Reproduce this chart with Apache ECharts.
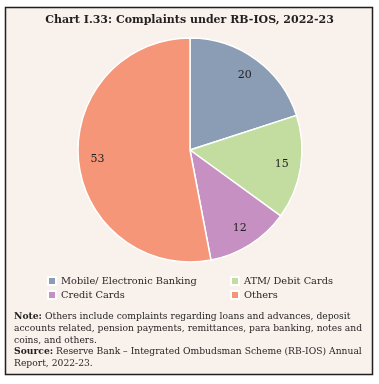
<!DOCTYPE html>
<html><head><meta charset="utf-8">
<script src="https://cdn.jsdelivr.net/npm/echarts@6/dist/echarts.min.js"></script>
<style>html,body{margin:0;padding:0;background:#fff}#c{width:379px;height:384px}</style>
</head><body><div id="c"></div>
<script>
var categories = ['Mobile/ Electronic Banking', 'ATM/ Debit Cards', 'Credit Cards', 'Others'];
var values = [20, 15, 12, 53];
var colors = ['#8a9db5', '#c2dd9f', '#c790c2', '#f59678'];
var titleText = 'Chart I.33: Complaints under RB-IOS, 2022-23';
var noteLines = [
  '{b|Note:} Others include complaints regarding loans and advances, deposit',
  'accounts related, pension payments, remittances, para banking, notes and',
  'coins, and others.',
  '{b|Source:} Reserve Bank \u2013 Integrated Ombudsman Scheme (RB-IOS) Annual',
  'Report, 2022-23.'
];
var FONT = 'DejaVu Serif';
var data = categories.map(function (n, i) { return { name: n, value: values[i], itemStyle: { color: colors[i] } }; });
var chart = echarts.init(document.getElementById('c'), null, { renderer: 'canvas' });
chart.setOption({
  backgroundColor: '#ffffff',
  animation: false,
  graphic: [
    { type: 'rect', z: -10, shape: { x: 5.5, y: 7.5, width: 367, height: 367 },
      style: { fill: '#f8f1ec', stroke: '#231f20', lineWidth: 1.5 } },
    { type: 'text', left: 14, top: 311, z: 10,
      style: { text: noteLines.join('\n'), font: '9.2px "' + FONT + '"', fill: '#231f20', lineHeight: 11.7,
        rich: { b: { fontWeight: 'bold', fontFamily: FONT, fontSize: 9.2, fill: '#231f20' } } } }
  ],
  title: { text: titleText, left: 'center', top: 15, padding: 0,
    textStyle: { fontFamily: FONT, fontWeight: 'bold', fontSize: 11, color: '#231f20' } },
  legend: [
    { data: [categories[0], categories[2]], orient: 'vertical', left: 47, top: 276, padding: 0, itemWidth: 8, itemHeight: 8, itemGap: 4,
      icon: 'rect', textStyle: { fontFamily: FONT, fontSize: 9.8, color: '#231f20' } },
    { data: [categories[1], categories[3]], orient: 'vertical', left: 230, top: 276, padding: 0, itemWidth: 8, itemHeight: 8, itemGap: 4,
      icon: 'rect', textStyle: { fontFamily: FONT, fontSize: 9.8, color: '#231f20' } }
  ],
  series: [
    { type: 'pie', center: [190, 150], radius: [0, 112], startAngle: 90, clockwise: true,
      label: { show: false }, labelLine: { show: false },
      itemStyle: { borderColor: '#ffffff', borderWidth: 1.5 }, emphasis: { disabled: true },
      data: data },
    { type: 'pie', center: [190, 150], radius: [68, 112], startAngle: 90, clockwise: true, silent: true,
      itemStyle: { color: 'transparent', borderWidth: 0 },
      label: { show: true, position: 'inside', formatter: '{c}', fontFamily: FONT, fontSize: 11, color: '#231f20' },
      labelLine: { show: false }, emphasis: { disabled: true },
      data: categories.map(function (n, i) { return { name: n, value: values[i] }; }) }
  ]
});
</script></body></html>
